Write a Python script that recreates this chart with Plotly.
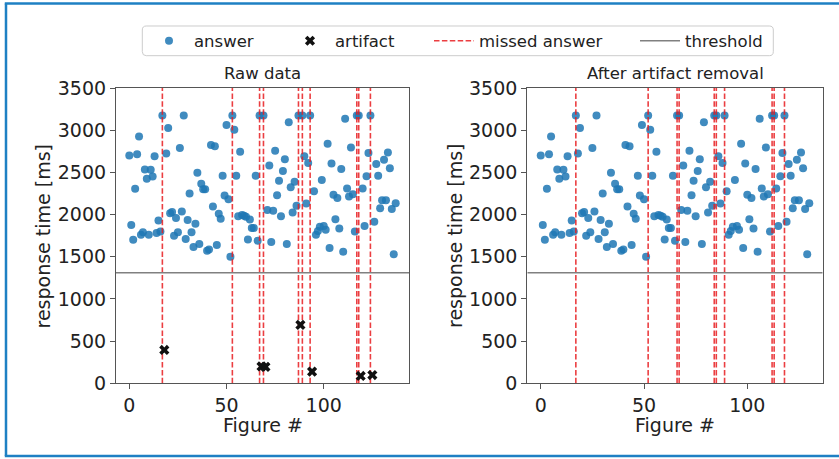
import plotly.graph_objects as go

W, H = 839, 459

# ---------------- data ----------------
# response times after artifact removal (index = figure #)
clean_rt = [
    2700, 1875, 1700, 2305, 2715, 2925, 1760, 1790, 2535, 2425,
    1760, 2530, 2450, 2690, 1780, 1930, 1800, 3175, 2725, 3025,
    2015, 2030, 1750, 1960, 1790, 2790, 2035, 3175, 1710, 1935,
    2250, 1790, 1615, 1890, 2495, 1650, 2365, 2300, 2300, 1570,
    1585, 2825, 2095, 2810, 1640, 2010, 1950, 2460, 2225, 3060,
    2180, 1500, 3175, 3005, 2460, 1980, 2745, 1995, 1985, 1975,
    1705, 1940, 1840, 1840, 2460, 1690, 3175, 3175, 2055, 2580,
    1675, 2045, 2755, 2230, 2400, 1980, 2515, 2655, 1650, 3095,
    2325, 2025, 2390, 2105, 3175, 3175, 2690, 2130, 2610, 3175,
    2275, 1760, 1805, 1855, 2410, 1865, 1820, 2840, 1605, 2605,
    2235, 1945, 2195, 1835, 2540, 1560, 3135, 2310, 2215, 2795,
    2240, 1800, 3175, 3175, 2310, 1865, 2455, 2730, 3175, 1915,
    2600, 2460, 2075, 2170, 2650, 2170, 2735, 2550, 2065, 1530,
    2135,
]
# figure numbers (after removal) of missed answers
missed_clean = [17, 52, 66, 67, 84, 85, 89, 112, 113, 118]
# artifacts in the raw recording: position and response time
artifact_idx_raw = [18, 68, 70, 88, 94, 119, 125]
artifact_rt = [395, 200, 195, 692, 138, 87, 98]
THRESHOLD = 1310
x_ticks = [0, 50, 100]
y_ticks = [0, 500, 1000, 1500, 2000, 2500, 3000, 3500]
Y_MAX = 3500

legend_names = ["answer", "artifact", "missed answer", "threshold"]
titles = ["Raw data", "After artifact removal"]

# raw series = clean answers with artifacts inserted
n_raw = len(clean_rt) + len(artifact_idx_raw)
art_set = set(artifact_idx_raw)
raw_answer_pos = [i for i in range(n_raw) if i not in art_set]
missed_raw = [raw_answer_pos[j] for j in missed_clean]

# ---------------- styles ----------------
FONT = "DejaVu Sans"
BLUE = "rgba(31,119,180,0.85)"
RED = "rgba(232,28,32,0.85)"
GRAY = "#808080"
SPINE = "#555555"
TXT = "#222222"
FRAME = "rgb(30,128,195)"

def px(x):
    return x / W

def py(y):
    return 1 - y / H

def mpl_range(n):
    span = n - 1
    return [-0.05 * span, span * 1.05]

fig = go.Figure()

panels = [
    dict(xa="x", ya="y", xs=raw_answer_pos, ys=clean_rt, missed=missed_raw,
         n=n_raw, art=True, leg=True),
    dict(xa="x2", ya="y2", xs=list(range(len(clean_rt))), ys=clean_rt,
         missed=missed_clean, n=len(clean_rt), art=False, leg=False),
]

for p in panels:
    rng = mpl_range(p["n"])
    fig.add_trace(go.Scatter(
        x=p["xs"], y=p["ys"], mode="markers", xaxis=p["xa"], yaxis=p["ya"],
        marker=dict(color=BLUE, size=8, line=dict(width=0)),
        name=legend_names[0], showlegend=p["leg"], legend="legend"))
    lx, ly = [], []
    for m in p["missed"]:
        lx += [m, m, None]
        ly += [0, Y_MAX, None]
    fig.add_trace(go.Scatter(
        x=lx, y=ly, mode="lines", xaxis=p["xa"], yaxis=p["ya"],
        line=dict(color=RED, width=1.6, dash="5.5px,2.4px"),
        name=legend_names[2], showlegend=p["leg"], legend="legend3"))
    fig.add_trace(go.Scatter(
        x=rng, y=[THRESHOLD, THRESHOLD], mode="lines", xaxis=p["xa"], yaxis=p["ya"],
        line=dict(color=GRAY, width=1.5),
        name=legend_names[3], showlegend=p["leg"], legend="legend4"))
    if p["art"]:
        fig.add_trace(go.Scatter(
            x=artifact_idx_raw, y=artifact_rt, mode="markers",
            xaxis=p["xa"], yaxis=p["ya"],
            marker=dict(symbol="x", color="#111111", size=9, line=dict(width=0)),
            name=legend_names[1], showlegend=True, legend="legend2"))

axis_common = dict(
    showline=True, linecolor=SPINE, linewidth=1.2, mirror=True,
    ticks="outside", ticklen=5, tickwidth=1.2, tickcolor=SPINE,
    showgrid=False, zeroline=False, automargin=False,
    tickfont=dict(family=FONT, size=19, color=TXT),
)

y_dom = [py(383.3), py(88)]
fig.update_layout(
    width=W, height=H,
    margin=dict(l=0, r=0, t=0, b=0, pad=0, autoexpand=False),
    paper_bgcolor="white", plot_bgcolor="white",
    font=dict(family=FONT, color=TXT),
    xaxis=dict(domain=[px(116), px(409)], range=mpl_range(n_raw),
               tickvals=x_ticks, anchor="y", **axis_common),
    yaxis=dict(domain=y_dom, range=[0, Y_MAX], tickvals=y_ticks, anchor="x", **axis_common),
    xaxis2=dict(domain=[px(527.3), px(822.7)], range=mpl_range(len(clean_rt)),
                tickvals=x_ticks, anchor="y2", **axis_common),
    yaxis2=dict(domain=y_dom, range=[0, Y_MAX], tickvals=y_ticks, anchor="x2", **axis_common),
)

# legends (one item each, placed in a shared frame)
leg_common = dict(orientation="h", yanchor="middle", y=py(41), xanchor="left",
                  bgcolor="rgba(0,0,0,0)", borderwidth=0, itemwidth=40,
                  font=dict(family=FONT, size=16.5, color=TXT))
fig.update_layout(
    legend=dict(x=px(144), **leg_common),
    legend2=dict(x=px(285), **leg_common),
    legend3=dict(x=px(429), **leg_common),
    legend4=dict(x=px(635), **leg_common),
)

# legend frame with rounded corners
def rounded(x0, y0, x1, y1, r):
    X = lambda v: f"{px(v):.5f}"
    Y = lambda v: f"{py(v):.5f}"
    return (f"M{X(x0+r)},{Y(y0)} L{X(x1-r)},{Y(y0)} Q{X(x1)},{Y(y0)} {X(x1)},{Y(y0+r)} "
            f"L{X(x1)},{Y(y1-r)} Q{X(x1)},{Y(y1)} {X(x1-r)},{Y(y1)} "
            f"L{X(x0+r)},{Y(y1)} Q{X(x0)},{Y(y1)} {X(x0)},{Y(y1-r)} "
            f"L{X(x0)},{Y(y0+r)} Q{X(x0)},{Y(y0)} {X(x0+r)},{Y(y0)} Z")

shapes = [
    dict(type="path", xref="paper", yref="paper", path=rounded(142.3, 26, 773.3, 55.7, 4),
         line=dict(color="#cccccc", width=1), fillcolor="rgba(255,255,255,0.8)", layer="below"),
    # white strip at the far right (the reference frame is open on that side)
    dict(type="rect", xref="paper", yref="paper", x0=px(826), x1=1.0, y0=py(459), y1=py(6),
         line=dict(width=0), fillcolor="white", layer="above"),
    # blue outer frame: top, left, bottom edges
    dict(type="line", xref="paper", yref="paper", x0=px(4.8), x1=1.0, y0=py(3.5), y1=py(3.5),
         line=dict(color=FRAME, width=2.5)),
    dict(type="line", xref="paper", yref="paper", x0=px(6), x1=px(6), y0=py(3.5), y1=py(456),
         line=dict(color=FRAME, width=2.5)),
    dict(type="line", xref="paper", yref="paper", x0=px(4.8), x1=1.0, y0=py(456), y1=py(456),
         line=dict(color=FRAME, width=2.5)),
]
fig.update_layout(shapes=shapes)

annots = []
for cx, t in zip([262.5, 675], titles):
    annots.append(dict(text=t, x=px(cx), y=py(73), xref="paper", yref="paper",
                       showarrow=False, xanchor="center", yanchor="middle",
                       font=dict(family=FONT, size=16.5, color=TXT)))
    annots.append(dict(text="Figure #", x=px(cx), y=py(425), xref="paper", yref="paper",
                       showarrow=False, xanchor="center", yanchor="middle",
                       font=dict(family=FONT, size=19, color=TXT)))
for cx in [42.5, 455]:
    annots.append(dict(text="response time [ms]", x=px(cx), y=py(236), xref="paper", yref="paper",
                       showarrow=False, xanchor="center", yanchor="middle", textangle=-90,
                       font=dict(family=FONT, size=19, color=TXT)))
fig.update_layout(annotations=annots)

fig.write_html(
    "out.html",
    config={"displayModeBar": False},
    post_script="document.body.style.margin='0';document.body.style.padding='0';"
                "document.body.style.overflow='hidden';",
)
